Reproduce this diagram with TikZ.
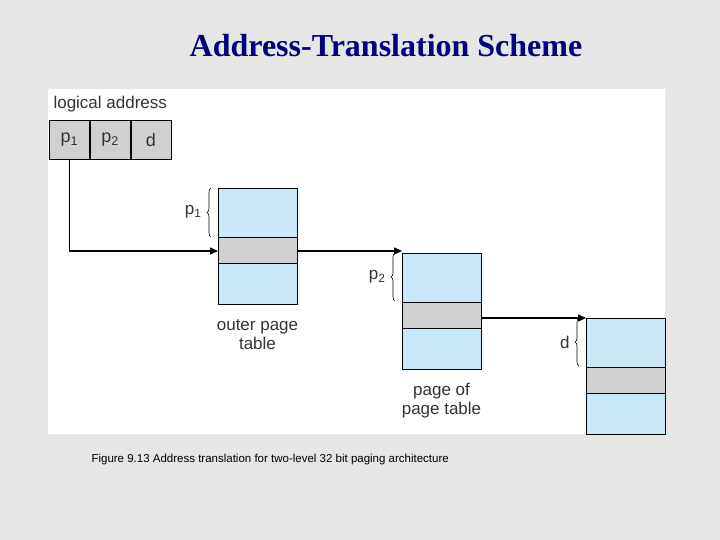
\documentclass[tikz,border=0pt]{standalone}
\usepackage{fontspec}
\setmainfont{Liberation Sans}
\newfontfamily\titlefont{Liberation Serif}
\usetikzlibrary{positioning,arrows.meta,decorations.pathreplacing,calc}
\definecolor{pagebg}{HTML}{E6E6E4}
\definecolor{entryblue}{HTML}{C8E8F8}
\definecolor{entrygray}{HTML}{D0D0D0}
\definecolor{titleblue}{HTML}{000080}

\tikzset{
  cell/.style={draw, fill=entrygray, line width=0.8pt, minimum width=40pt, minimum height=39pt, inner sep=0pt, font=\fontsize{18}{18}\selectfont, text=black!80},
  link/.style={-{Triangle[length=8pt,width=7pt]}, line width=1.4pt},
  brc/.style={decorate, decoration={brace, amplitude=4pt}, line width=0.6pt},
  lbl/.style={font=\fontsize{17}{19}\selectfont, text=black!80}
}

% one page table: top-left corner, gray row from offsets
\newcommand{\pagetable}[2]{%
  \fill[entryblue] (#1) rectangle ++(79,116);
  \fill[entrygray] ($(#1)+(0,49)$) rectangle ++(79,26);
  \draw[line width=0.8pt] (#1) rectangle ++(79,116);
  \draw[line width=0.8pt] ($(#1)+(0,49)$) -- ++(79,0);
  \draw[line width=0.8pt] ($(#1)+(0,75)$) -- ++(79,0);
  \coordinate (#2-in) at (#1);
  \coordinate (#2-row) at ($(#1)+(0,63)$);
  \coordinate (#2-out) at ($(#1)+(79,63)$);
}

\begin{document}
\begin{tikzpicture}[x=1pt,y=-1pt]
\fill[pagebg] (0,0) rectangle (720,540);
\useasboundingbox (0,0) rectangle (720,540);
\fill[white] (48,89) rectangle (665,434);

\node[font=\titlefont\bfseries\fontsize{32}{32}\selectfont, text=titleblue] (title) at (386,46) {Address-Translation Scheme};

% logical address
\node[lbl, anchor=west] (logaddr) at (50,104) {logical address};
\node[cell, anchor=north west] (p1) at (49,120) {p\textsubscript{1}};
\node[cell, right=0pt of p1] (p2) {p\textsubscript{2}};
\node[cell, right=0pt of p2] (d) {d};

% tables
\coordinate (outerNW) at (218,188);
\coordinate (innerNW) at (402,253);
\coordinate (pageNW) at (586,318);
\pagetable{outerNW}{outer}
\pagetable{innerNW}{inner}
\pagetable{pageNW}{frame}

% braces
\draw[brc] (211,237) -- (211,188);
\draw[brc] (395,301) -- (395,253);
\draw[brc] (579,366) -- (579,318);
\node[lbl, left=6pt of {$(211,212)$}] (b1) {p\textsubscript{1}};
\node[lbl, left=6pt of {$(395,277)$}] (b2) {p\textsubscript{2}};
\node[lbl, left=6pt of {$(579,342)$}] (b3) {d};

% links
\draw[link] (p1.south) |- (outer-row);
\draw[link] (outer-out) -- (outer-out -| inner-in);
\draw[link] (inner-out |- frame-in) -- (frame-in);

% captions
\node[lbl, align=center, anchor=north] (cap1) at (257.5,316) {outer page\\table};
\node[lbl, align=center, anchor=north] (cap2) at (441.5,380) {page of\\page table};
\node[anchor=west, font=\fontsize{11.5}{11.5}\selectfont] (fig) at (88,460) {Figure 9.13 Address translation for two-level 32 bit paging architecture};
\end{tikzpicture}
\end{document}
